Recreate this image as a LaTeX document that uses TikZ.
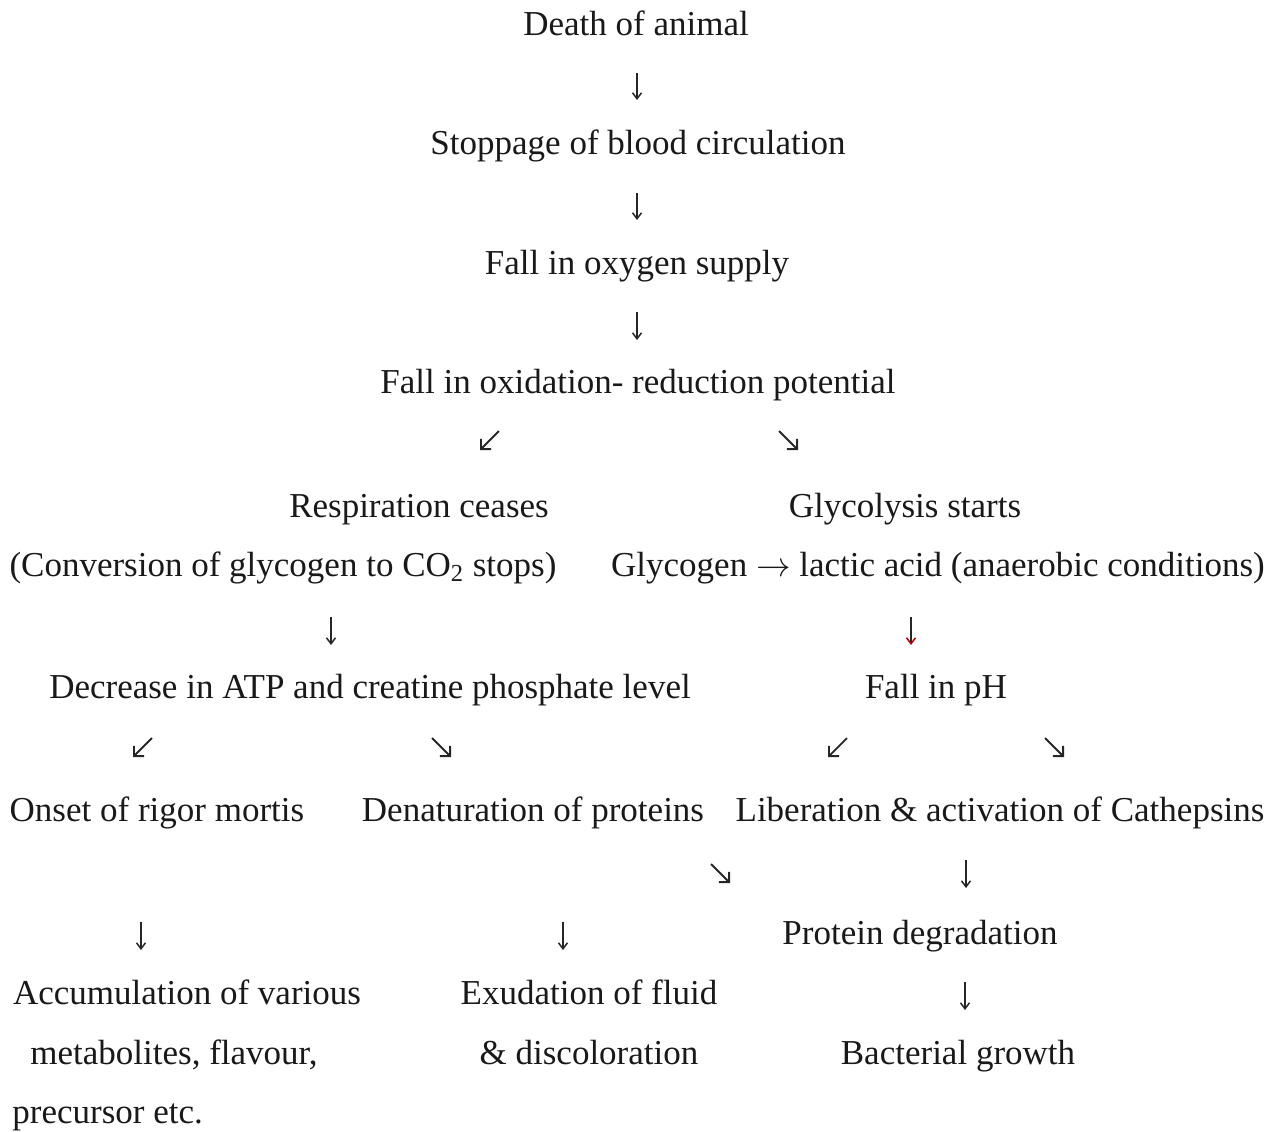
\documentclass[tikz,border=0pt]{standalone}
\usepackage{fontspec}
\setmainfont{Liberation Serif}
\usetikzlibrary{arrows.meta}

\begin{document}
\begin{tikzpicture}[x=0.5pt,y=-0.5pt,>={Straight Barb[length=3pt,width=4.5pt]}]
    \tikzstyle{stage}=[inner sep=0pt,anchor=base,text=black!90,font=\fontsize{17.5}{21}\selectfont]
    \tikzstyle{arr}=[->,line width=0.75pt,draw=black!85]
    \tikzstyle{diag}=[-{Straight Barb[length=3.6pt,width=7.2pt]},line width=0.9pt,draw=black!85]

    \useasboundingbox (0,0) rectangle (1280,1131);

    \node[stage] (death)  at (636,35)  {Death of animal};
    \node[stage] (stop)   at (638,154) {Stoppage of blood circulation};
    \node[stage] (oxy)    at (637,274) {Fall in oxygen supply};
    \node[stage] (redox)  at (638,393) {Fall in oxidation- reduction potential};

    \node[stage] (resp)   at (419,517) {Respiration ceases};
    \node[stage] (glyc)   at (905,517) {Glycolysis starts};
    \node[stage] (conv)   at (283,576) {(Conversion of glycogen to CO\textsubscript{2} stops)};
    \node[stage] (lact)   at (938,576) {Glycogen $\rightarrow$ lactic acid (anaerobic conditions)};

    \node[stage] (atp)    at (370,698) {Decrease in ATP and creatine phosphate level};
    \node[stage] (ph)     at (936,698) {Fall in pH};

    \node[stage] (rigor)  at (157,821) {Onset of rigor mortis};
    \node[stage] (denat)  at (533,821) {Denaturation of proteins};
    \node[stage] (cath)   at (1000,821) {Liberation \& activation of Cathepsins};

    \node[stage] (degr)   at (920,944) {Protein degradation};
    \node[stage] (accum)  at (187,1004) {Accumulation of various};
    \node[stage] (exud)   at (589,1004) {Exudation of fluid};
    \node[stage] (metab)  at (174,1064) {metabolites, flavour,};
    \node[stage] (discol) at (589,1064) {\& discoloration};
    \node[stage] (bact)   at (958,1064) {Bacterial growth};
    \node[stage,anchor=base west] (prec) at (12,1123) {precursor etc.};

    \foreach \name/\xa/\ya/\xb/\yb in {d1/637/73/637/100, d2/637/193/637/220, d3/637/312/637/340,
        d4/331/617/331/645, d6/966/860/966/888,
        d7/141/922/141/950, d8/563/922/563/950, d9/965/982/965/1010}
    {
        \coordinate (\name-s) at (\xa,\ya);
        \coordinate (\name-e) at (\xb,\yb);
        \draw[arr] (\name-s) -- (\name-e);
    }

    \foreach \name/\xa/\ya/\xb/\yb in {l1/499/431/480/450, r1/779/431/798/450,
        l2/152/738/133/757, r2/432/738/451/757, l3/847/738/828/757, r3/1045/738/1064/757,
        r4/711/864/730/883}
    {
        \coordinate (\name-s) at (\xa,\ya);
        \coordinate (\name-e) at (\xb,\yb);
        \draw[diag] (\name-s) -- (\name-e);
    }

    \coordinate (d5-s) at (911,617);
    \coordinate (d5-e) at (911,645);
    \draw[line width=0.75pt,draw=black!85,-{Straight Barb[length=3pt,width=4.5pt,color=red!70!black]}] (d5-s) -- (d5-e);
\end{tikzpicture}
\end{document}
